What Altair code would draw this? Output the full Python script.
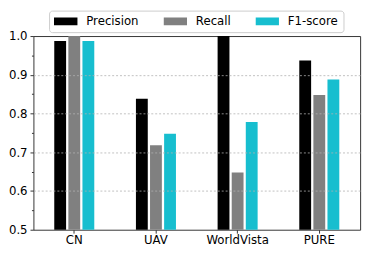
import altair as alt
import pandas as pd

datasets = ["CN", "UAV", "WorldVista", "PURE"]
metrics = ["Precision", "Recall", "F1-score"]
precision = [0.987, 0.838, 1.0, 0.937]
recall = [1.0, 0.718, 0.648, 0.848]
f1_score = [0.987, 0.748, 0.778, 0.888]
colors = ["#000000", "#808080", "#17becf"]
y_ticks = [0.5, 0.55, 0.6, 0.65, 0.7, 0.75, 0.8, 0.85, 0.9, 0.95, 1.0]

rows = []
for i, d in enumerate(datasets):
    for m, vals in zip(metrics, [precision, recall, f1_score]):
        rows.append({"dataset": d, "metric": m, "value": vals[i]})
df = pd.DataFrame(rows)

minor_test = "round(datum.value*100) % 10 != 0"
nogrid_test = "round(datum.value*100) % 10 != 0 || datum.value < 0.55 || datum.value > 0.96"

chart = alt.Chart(df).mark_bar(clip=True).encode(
    x=alt.X(
        "dataset:N",
        sort=datasets,
        scale=alt.Scale(paddingInner=0.51, paddingOuter=0.255),
        axis=alt.Axis(
            title=None, labelAngle=0, labelFontSize=12, labelColor="#000000",
            tickSize=3.5, tickColor="#333333", labelPadding=2, domain=False,
            grid=False,
        ),
    ),
    xOffset=alt.XOffset(
        "metric:N", sort=metrics,
        scale=alt.Scale(paddingInner=0.16, paddingOuter=0),
    ),
    y=alt.Y(
        "value:Q",
        scale=alt.Scale(domain=[0.5, 1.0], zero=False, nice=False),
        axis=alt.Axis(
            title=None, values=y_ticks, format=".1f",
            labelExpr="round(datum.value*100) % 10 == 0 ? datum.label : ''",
            labelFontSize=12, labelColor="#000000", labelPadding=3,
            tickColor="#333333",
            tickSize={"condition": {"test": minor_test, "value": 2}, "value": 3.5},
            grid=True, gridColor="#b0b0b0", gridDash=[2, 2], gridWidth=0.8,
            gridOpacity={"condition": {"test": nogrid_test, "value": 0}, "value": 1},
            domain=False, zindex=1,
        ),
    ),
    color=alt.Color(
        "metric:N",
        sort=metrics,
        scale=alt.Scale(domain=metrics, range=colors),
        legend=alt.Legend(
            title=None, orient="none", legendX=16, legendY=-26,
            direction="horizontal",
            symbolType="M-1,-0.333L1,-0.333L1,0.333L-1,0.333Z",
            symbolSize=576, symbolStrokeWidth=0, symbolOpacity=1,
            clipHeight=12,
            labelFontSize=12, labelColor="#000000", labelOffset=9,
            columnPadding=25, padding=5,
            strokeColor="#cccccc", cornerRadius=3, fillColor="white",
        ),
    ),
).properties(
    width=334,
    height=198,
    padding={"left": 26, "top": 26, "right": 6, "bottom": 16},
    autosize=alt.AutoSizeParams(type="none"),
).configure(
    font="DejaVu Sans",
).configure_view(
    stroke="#333333", strokeWidth=1,
)

chart.save("out.html", embed_options={"renderer": "svg", "actions": False})
